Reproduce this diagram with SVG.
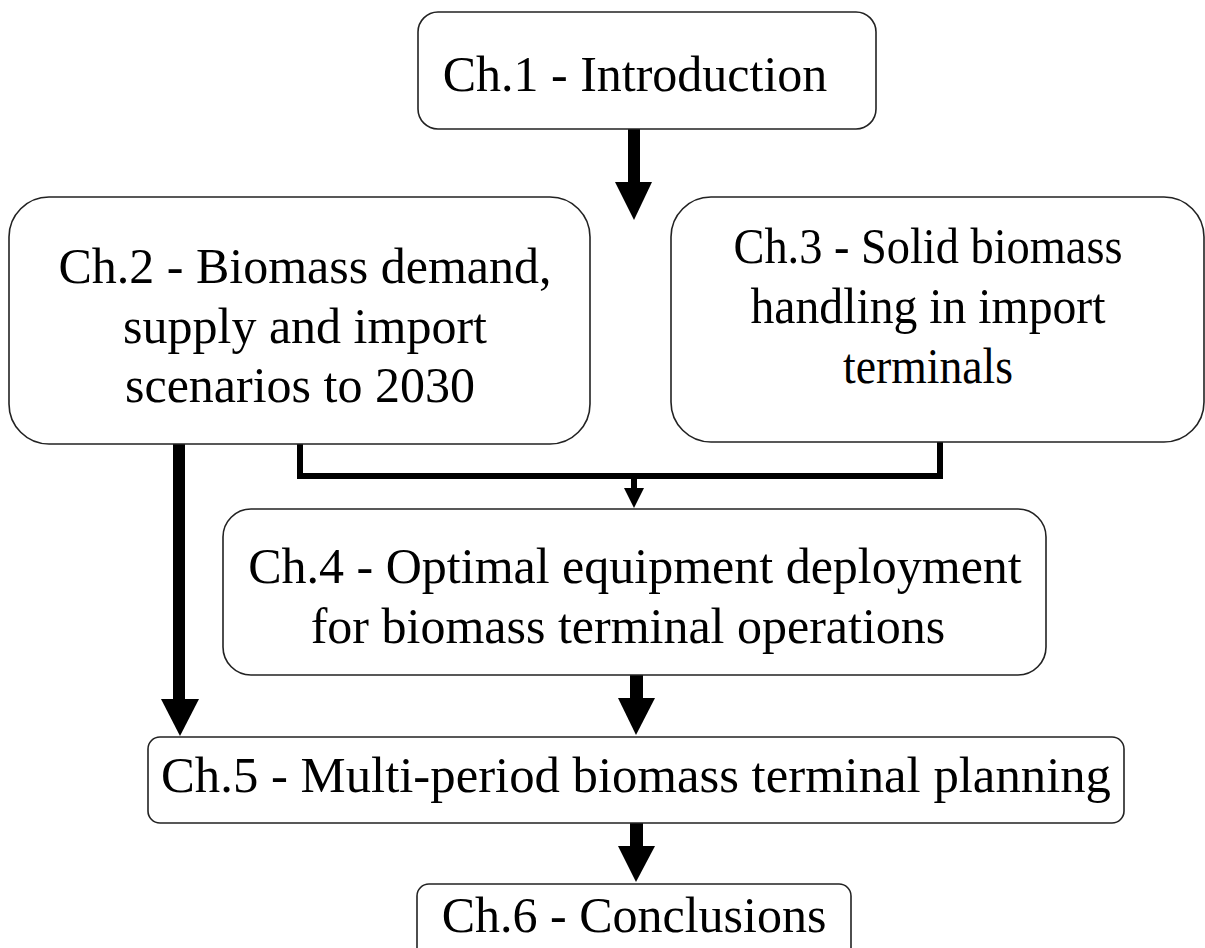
<svg xmlns="http://www.w3.org/2000/svg" width="1205" height="948" viewBox="0 0 1205 948">
<style>
.box{fill:#fff;stroke:#222;stroke-width:1.6}
.t{font-family:"Liberation Serif","Times New Roman",serif;font-size:50px;fill:#000;text-anchor:middle}
.arr{fill:#000;stroke:none}
.bracket{fill:none;stroke:#000;stroke-width:6}
</style>
<rect width="1205" height="948" fill="#fff"/>
<g id="connectors">
<rect class="arr" x="628" y="128" width="12" height="55"/>
<polygon class="arr" points="615,182 652,182 634,220"/>
<rect class="arr" x="173" y="443" width="12" height="257"/>
<polygon class="arr" points="161,699 199,699 180,736"/>
<polyline class="bracket" points="300,443 300,476 940,476 940,441"/>
<rect class="arr" x="631" y="476" width="6" height="13"/>
<polygon class="arr" points="624,488 644,488 634,508"/>
<rect class="arr" x="630" y="674" width="13" height="25"/>
<polygon class="arr" points="618,698 655,698 636,735"/>
<rect class="arr" x="630" y="822" width="13" height="25"/>
<polygon class="arr" points="618,846 655,846 636,882"/>
</g>
<g id="ch1">
<rect class="box" x="418" y="12" width="458" height="117" rx="20"/>
<text class="t" x="635" y="91">Ch.1 - Introduction</text>
</g>
<g id="ch2">
<rect class="box" x="9" y="197" width="581" height="247" rx="40"/>
<text class="t" x="305" y="283">Ch.2 - Biomass  demand,</text>
<text class="t" x="305" y="343">supply and import</text>
<text class="t" x="300" y="402">scenarios to 2030</text>
</g>
<g id="ch3">
<rect class="box" x="671" y="197" width="533" height="245" rx="40"/>
<text class="t" x="928" y="263" textLength="389" lengthAdjust="spacingAndGlyphs">Ch.3 - Solid biomass</text>
<text class="t" x="928" y="323" textLength="355" lengthAdjust="spacingAndGlyphs">handling in import</text>
<text class="t" x="928" y="383" textLength="170" lengthAdjust="spacingAndGlyphs">terminals</text>
</g>
<g id="ch4">
<rect class="box" x="223" y="509" width="823" height="166" rx="28"/>
<text class="t" x="635" y="583">Ch.4 - Optimal equipment deployment</text>
<text class="t" x="628" y="643">for biomass terminal operations</text>
</g>
<g id="ch5">
<rect class="box" x="148" y="737" width="976" height="86" rx="12"/>
<text class="t" x="636" y="792" textLength="950" lengthAdjust="spacingAndGlyphs">Ch.5 - Multi-period biomass terminal planning</text>
</g>
<g id="ch6">
<rect class="box" x="417" y="884" width="434" height="80" rx="12"/>
<text class="t" x="634" y="932">Ch.6 - Conclusions</text>
</g>
</svg>
